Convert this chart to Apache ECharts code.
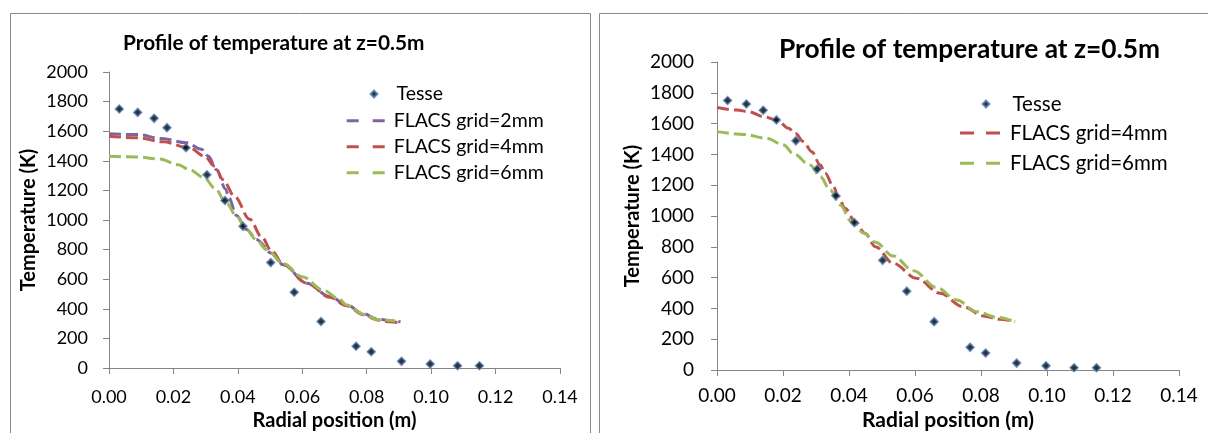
<!DOCTYPE html>
<html>
<head>
<meta charset="utf-8">
<script src="https://cdn.jsdelivr.net/npm/echarts@6/dist/echarts.min.js"></script>
<style>
html,body{margin:0;padding:0;background:#fff;}
#c{width:1208px;height:433px;}
</style>
</head>
<body>
<div id="c"></div>
<script>
// ---------- data ----------
const titleText = 'Profile of temperature at z=0.5m';
const xAxisTitle = 'Radial position (m)';
const yAxisTitle = 'Temperature (K)';
const xTickLabels = ['0.00','0.02','0.04','0.06','0.08','0.10','0.12','0.14'];
const yTickLabels = ['0','200','400','600','800','1000','1200','1400','1600','1800','2000'];

const tesseX = [0.0032,0.0089,0.0140,0.0180,0.0239,0.0304,0.0360,0.0416,0.0502,0.0575,0.0658,0.0767,0.0814,0.0908,0.0997,0.1082,0.1150];
const tesseY = [1750,1727,1687,1624,1488,1305,1132,957,712,512,314,147,110,45,27,15,15];

// left chart FLACS curves
const L2mmX = [0,0.009,0.0163,0.024,0.0287,0.0308,0.0334,0.0362,0.0372,0.0396,0.0427,0.0458,0.0505,0.0541,0.0614,0.0686,0.0738,0.079,0.0832,0.0873,0.0905];
const L2mmY = [1582,1577,1550,1522,1478,1432,1340,1210,1150,1030,935,868,775,697,573,482,426,366,332,320,312];
const L4mmX = [0,0.009,0.0168,0.025,0.0297,0.0328,0.0354,0.039,0.0437,0.0474,0.0505,0.0541,0.0614,0.0686,0.0738,0.079,0.0832,0.0873,0.0905];
const L4mmY = [1566,1555,1528,1487,1431,1363,1272,1159,1005,885,790,700,573,478,420,360,325,312,303];
const L6mmX = [0,0.0085,0.0157,0.0215,0.025,0.0297,0.0328,0.0365,0.0396,0.0427,0.0458,0.0489,0.054,0.060,0.0665,0.0712,0.0738,0.079,0.0832,0.0889];
const L6mmY = [1430,1426,1412,1374,1340,1284,1216,1114,1024,933,865,800,707,617,527,470,426,364,328,318];

// right chart FLACS curves
const R4mmX = [0,0.006,0.0096,0.0141,0.0182,0.0217,0.0237,0.0262,0.0287,0.0313,0.0328,0.0353,0.0368,0.0388,0.0419,0.0449,0.048,0.0534,0.0605,0.0676,0.0746,0.0807,0.0857,0.0903];
const R4mmY = [1705,1688,1677,1645,1623,1569,1537,1483,1418,1331,1277,1190,1126,1050,963,887,801,693,595,498,411,351,329,314];
const R6mmX = [0,0.0081,0.0151,0.0202,0.0232,0.0282,0.0313,0.0343,0.0373,0.0408,0.0444,0.048,0.0534,0.0595,0.0666,0.0726,0.0787,0.0847,0.0897];
const R6mmY = [1548,1530,1504,1461,1403,1331,1255,1169,1071,963,890,830,740,645,535,455,379,342,318];

const seriesNames = ['Tesse','FLACS grid=2mm','FLACS grid=4mm','FLACS grid=6mm'];
// ---------- end data ----------

const zip = (xs, ys) => xs.map((x, i) => [x, ys[i]]);
const FONT = 'Lato';
const AX = '#868686';
const colors = { p: '#8064A2', r: '#C0504D', g: '#9BBB59', b: '#4F81BD' };
const dashIconL = 'path://M0,0L12,0L12,3L0,3Z M26,0L38,0L38,3L26,3Z';
const dashIconR = 'path://M0,0L14,0L14,3L0,3Z M26,0L40,0L40,3L26,3Z';

function xAxisCfg(gi, fs, margin, nameGap, nameFs) {
  return {
    type: 'value', gridIndex: gi, min: 0, max: 0.14, interval: 0.02,
    axisLine: { show: true, lineStyle: { color: AX, width: 1 } },
    axisTick: { show: true, length: 6, lineStyle: { color: AX } },
    splitLine: { show: false },
    axisLabel: { margin: margin, color: '#000', fontFamily: FONT, fontSize: fs,
      formatter: (v) => xTickLabels[Math.round(v / 0.02)] },
    name: xAxisTitle, nameLocation: 'middle', nameGap: nameGap,
    nameTextStyle: { fontFamily: FONT, fontWeight: 'bold', fontSize: nameFs, color: '#000' }
  };
}
function yAxisCfg(gi, fs, margin, nameGap, nameFs) {
  return {
    type: 'value', gridIndex: gi, min: 0, max: 2000, interval: 200,
    axisLine: { show: true, lineStyle: { color: AX, width: 1 } },
    axisTick: { show: true, length: 6, lineStyle: { color: AX } },
    splitLine: { show: false },
    axisLabel: { margin: margin, color: '#000', fontFamily: FONT, fontSize: fs,
      formatter: (v) => yTickLabels[Math.round(v / 200)] },
    name: yAxisTitle, nameLocation: 'middle', nameGap: nameGap, nameRotate: 90,
    nameTextStyle: { fontFamily: FONT, fontWeight: 'bold', fontSize: nameFs, color: '#000' }
  };
}
function scatter(idx, name) {
  return {
    name: name, type: 'scatter', xAxisIndex: idx, yAxisIndex: idx,
    data: zip(tesseX, tesseY), symbol: 'diamond', symbolSize: 8,
    itemStyle: { color: '#000', borderColor: colors.b, borderWidth: 1.5 },
    z: 5
  };
}
function curve(idx, name, xs, ys, col) {
  return {
    name: name, type: 'line', xAxisIndex: idx, yAxisIndex: idx,
    data: zip(xs, ys), symbol: 'none', smooth: 0.35, smoothMonotone: 'x',
    lineStyle: { color: col, width: 3, type: [12, 5] },
    itemStyle: { color: col }
  };
}
const option = {
  animation: false,
  backgroundColor: '#fff',
  title: [
    { text: titleText, left: 118, top: 27,
      textStyle: { fontFamily: FONT, fontWeight: 'bold', fontSize: 20.8, lineHeight: 22, color: '#000' } },
    { text: titleText, left: 774, top: 32,
      textStyle: { fontFamily: FONT, fontWeight: 'bold', fontSize: 26.3, lineHeight: 26, color: '#000' } }
  ],
  grid: [
    { left: 109, top: 72, width: 451, height: 296, outerBoundsMode: 'none', containLabel: false },
    { left: 717, top: 62, width: 462, height: 308, outerBoundsMode: 'none', containLabel: false }
  ],
  xAxis: [ xAxisCfg(0, 18, 20, 40, 20), xAxisCfg(1, 19, 16, 36, 21) ],
  yAxis: [ yAxisCfg(0, 18, 21, 70, 20), yAxisCfg(1, 19, 23, 74, 20) ],
  legend: [
    { orient: 'vertical', left: 364.5, top: 79, itemWidth: 7, itemHeight: 7,
      data: [{ name: seriesNames[0] }],
      textStyle: { fontFamily: FONT, fontSize: 19.5, lineHeight: 20, color: '#000', padding: [0,0,0,14] } },
    { orient: 'vertical', left: 341.7, top: 105.7, itemWidth: 38, itemHeight: 3, itemGap: 6,
      data: [1,2,3].map(i => ({ name: seriesNames[i], icon: dashIconL })),
      textStyle: { fontFamily: FONT, fontSize: 19.5, lineHeight: 20, color: '#000', padding: [0,0,0,4] } },
    { orient: 'vertical', left: 976.5, top: 88.5, itemWidth: 7, itemHeight: 7,
      data: [{ name: seriesNames[0] + ' ' }],
      textStyle: { fontFamily: FONT, fontSize: 20.5, lineHeight: 20, color: '#000', padding: [0,0,0,18] } },
    { orient: 'vertical', left: 955, top: 117.5, itemWidth: 40, itemHeight: 3, itemGap: 9.3,
      data: [2,3].map(i => ({ name: seriesNames[i] + ' ', icon: dashIconR })),
      textStyle: { fontFamily: FONT, fontSize: 20.5, lineHeight: 20, color: '#000', padding: [0,0,0,5] } }
  ],
  graphic: [
    { type: 'rect', shape: { x: 10.5, y: 13.5, width: 580, height: 460 },
      style: { fill: 'none', stroke: '#8a8a8a', lineWidth: 1 }, silent: true },
    { type: 'rect', shape: { x: 599.5, y: 13.5, width: 700, height: 460 },
      style: { fill: 'none', stroke: '#8a8a8a', lineWidth: 1 }, silent: true }
  ],
  series: [
    curve(0, seriesNames[1], L2mmX, L2mmY, colors.p),
    curve(0, seriesNames[2], L4mmX, L4mmY, colors.r),
    curve(0, seriesNames[3], L6mmX, L6mmY, colors.g),
    scatter(0, seriesNames[0]),
    curve(1, seriesNames[2] + ' ', R4mmX, R4mmY, colors.r),
    curve(1, seriesNames[3] + ' ', R6mmX, R6mmY, colors.g),
    scatter(1, seriesNames[0] + ' ')
  ]
};
const chart = echarts.init(document.getElementById('c'), null, { renderer: 'canvas' });
chart.setOption(option);
</script>
</body>
</html>
